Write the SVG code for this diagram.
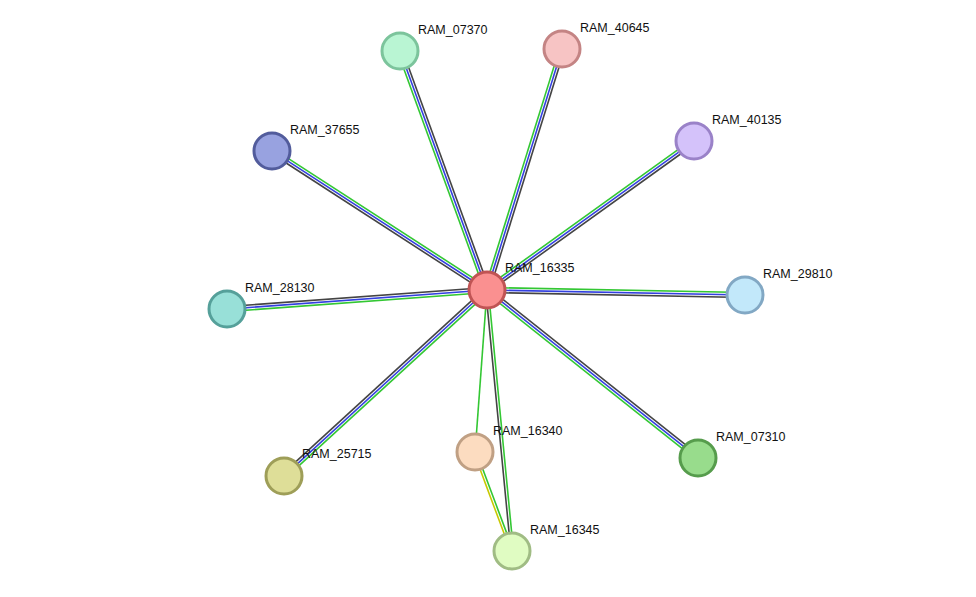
<svg xmlns="http://www.w3.org/2000/svg" width="976" height="597" viewBox="0 0 976 597">
<style>
.g{stroke:#33c733;stroke-width:1.6}.b{stroke:#3340e0;stroke-width:1.6}.k{stroke:#444;stroke-width:1.6}.y{stroke:#c8c800;stroke-width:1.6}
circle{stroke-width:3}
text{font-family:"Liberation Sans",Arial,sans-serif;font-size:12.5px;fill:#111}
</style>
<rect width="976" height="597" fill="#fff"/>
<g id="edges">
<g transform="translate(487,290) rotate(-110)"><line class="g" x2="254" y1="-2.5" y2="-2.5"/><line class="b" x2="254"/><line class="k" x2="254" y1="2.5" y2="2.5"/></g>
<g transform="translate(487,290) rotate(-72.7)"><line class="g" x2="252" y1="-2.5" y2="-2.5"/><line class="b" x2="252"/><line class="k" x2="252" y1="2.5" y2="2.5"/></g>
<g transform="translate(487,290) rotate(-147.1)"><line class="g" x2="256" y1="2.5" y2="2.5"/><line class="b" x2="256"/><line class="k" x2="256" y1="-2.5" y2="-2.5"/></g>
<g transform="translate(487,290) rotate(-35.7)"><line class="g" x2="255" y1="-2.5" y2="-2.5"/><line class="b" x2="255"/><line class="k" x2="255" y1="2.5" y2="2.5"/></g>
<g transform="translate(487,290) rotate(175.8)"><line class="g" x2="261" y1="-2.5" y2="-2.5"/><line class="b" x2="261"/><line class="k" x2="261" y1="2.5" y2="2.5"/></g>
<g transform="translate(487,290) rotate(1.1)"><line class="g" x2="258" y1="-2.5" y2="-2.5"/><line class="b" x2="258"/><line class="k" x2="258" y1="2.5" y2="2.5"/></g>
<g transform="translate(487,290) rotate(137.5)"><line class="g" x2="275" y1="-2.5" y2="-2.5"/><line class="b" x2="275"/><line class="k" x2="275" y1="2.5" y2="2.5"/></g>
<g transform="translate(487,290) rotate(38.5)"><line class="g" x2="270" y1="2.5" y2="2.5"/><line class="b" x2="270"/><line class="k" x2="270" y1="-2.5" y2="-2.5"/></g>
<g transform="translate(487,290) rotate(94.2)"><line class="g" x2="162"/></g>
<g transform="translate(487,290) rotate(84.5)"><line class="g" x2="262" y1="-1.3" y2="-1.3"/><line class="k" x2="262" y1="1.3" y2="1.3"/></g>
<g transform="translate(475,452) rotate(69.5)"><line class="g" x2="106" y1="-1.3" y2="-1.3"/><line class="y" x2="106" y1="1.3" y2="1.3"/></g>
</g>
<g id="RAM_07370"><circle cx="400" cy="51" r="18" fill="#b9f5d3" stroke="#7cc49c"/><text x="418" y="34">RAM_07370</text></g>
<g id="RAM_40645"><circle cx="562" cy="49" r="18" fill="#f7c4c4" stroke="#c48484"/><text x="580" y="32">RAM_40645</text></g>
<g id="RAM_37655"><circle cx="272" cy="151" r="18" fill="#98a2e0" stroke="#525c9c"/><text x="290" y="134">RAM_37655</text></g>
<g id="RAM_40135"><circle cx="694" cy="141" r="18" fill="#d4c2fa" stroke="#9a82c8"/><text x="712" y="124">RAM_40135</text></g>
<g id="RAM_28130"><circle cx="227" cy="309" r="18" fill="#98e0d8" stroke="#55a09a"/><text x="245" y="292">RAM_28130</text></g>
<g id="RAM_29810"><circle cx="745" cy="295" r="18" fill="#c2e8fa" stroke="#82a8c4"/><text x="763" y="278">RAM_29810</text></g>
<g id="RAM_25715"><circle cx="284" cy="476" r="18" fill="#dede98" stroke="#9e9e58"/><text x="302" y="458">RAM_25715</text></g>
<g id="RAM_16340"><circle cx="475" cy="452" r="18" fill="#fcdcc0" stroke="#c0a084"/><text x="493" y="435">RAM_16340</text></g>
<g id="RAM_07310"><circle cx="698" cy="458" r="18" fill="#98dc8c" stroke="#569c4c"/><text x="716" y="441">RAM_07310</text></g>
<g id="RAM_16345"><circle cx="512" cy="551" r="18" fill="#e0fcc2" stroke="#a0bc84"/><text x="530" y="534">RAM_16345</text></g>
<g id="RAM_16335"><circle cx="487" cy="290" r="18" fill="#fa9090" stroke="#c05454"/><text x="505" y="272">RAM_16335</text></g>
</svg>
